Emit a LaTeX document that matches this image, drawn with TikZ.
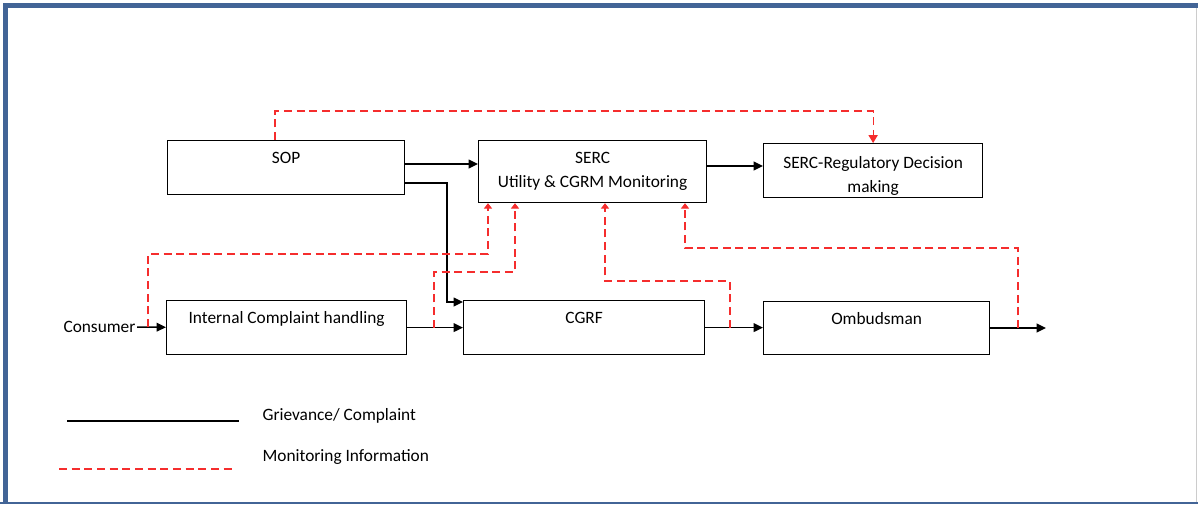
\documentclass[tikz,border=0pt]{standalone}
\usepackage{fontspec}
\setmainfont{Carlito}
\usetikzlibrary{arrows.meta}

\definecolor{frameblue}{RGB}{66,100,150}
\definecolor{monred}{RGB}{245,45,45}

\tikzset{
  blk/.style={draw, line width=0.9pt, anchor=north west, inner xsep=2pt, inner ysep=0pt, align=center, font=\fontsize{13}{18}\selectfont},
  onebox/.style={text height=17.4pt, text depth=23.1pt},
  flow/.style={line width=1.1pt, -{Triangle[length=7pt,width=6.5pt]}},
  mon/.style={monred, line width=0.8pt, dash pattern=on 6pt off 3.5pt},
  monhd/.style={mon, -{Triangle[length=4pt,width=6pt]}},
  lbl/.style={font=\fontsize{13}{15}\selectfont, inner sep=1pt}
}

\begin{document}
\begin{tikzpicture}[x=0.75pt,y=0.75pt,yscale=-1,xscale=1]
\useasboundingbox (0,0) rectangle (1198,504);

%Frame
\draw [frameblue, line width=3.75pt] (5.5,504) -- (5.5,5.5) -- (1198,5.5) ;
\draw [frameblue, line width=1.5pt] (0,503) -- (1198,503) ;
\draw [gray!40, line width=0.6pt] (1196.5,8) -- (1196.5,502) ;

%Boxes
\node [blk, onebox, minimum width=177.75pt] (sop) at (167,140) {SOP};
\node [blk, text height=35.4pt, text depth=11.1pt, minimum width=171pt] (serc) at (478,140) {SERC\\Utility \& CGRM Monitoring};
\node [blk, text height=36.5pt, text depth=4pt, minimum width=164.25pt] (reg) at (763,143) {SERC-Regulatory Decision\\making};
\node [blk, onebox, minimum width=180pt] (ich) at (166,300) {Internal Complaint handling};
\node [blk, onebox, minimum width=180.75pt] (cgrf) at (463,300) {CGRF};
\node [blk, text height=17.4pt, text depth=22.35pt, minimum width=169.5pt] (omb) at (763,301) {Ombudsman};

% Text Node
\node [lbl, anchor=east] (cons) at (137,327) {Consumer};

%Corner points
\coordinate (s1) at (440,164) ;
\coordinate (s2) at (735,166) ;
\coordinate (feed) at (447,183) ;
\coordinate (feedb) at (447,302) ;
\coordinate (endc) at (1046,328) ;

%Grievance lines
\draw [flow] (sop.east |- s1) -- (serc.west |- s1) ;
\draw [flow] (serc.east |- s2) -- (reg.west |- s2) ;
\draw [flow] (sop.east |- feed) -- (feed) -- (feedb) -- (cgrf.west |- feedb) ;
\draw [flow] (cons) -- (ich) ;
\draw [flow] (ich) -- (cgrf) ;
\draw [flow] (cgrf.east) -- (cgrf.east -| omb.west) ;
\draw [flow] (omb.east |- endc) -- (endc) ;

%Monitoring lines
\coordinate (m1) at (275,111) ;
\coordinate (m2) at (148,254) ;
\coordinate (m2e) at (488,254) ;
\coordinate (m3) at (434,272) ;
\coordinate (m3e) at (515,272) ;
\coordinate (m4) at (730,281) ;
\coordinate (m4e) at (605,281) ;
\coordinate (m5) at (1018,248) ;
\coordinate (m5e) at (685,248) ;
\draw [mon, -{Triangle[length=6pt,width=7pt]}] (sop.north -| m1) -- (m1) -| (reg.north) ;
\draw [monhd] (m2 |- cons.east) -- (m2) -- (m2e) -- (m2e |- serc.south) ;
\draw [monhd] (m3 |- ich.east) -- (m3) -- (m3e) -- (m3e |- serc.south) ;
\draw [monhd] (m4 |- cgrf.east) -- (m4) -- (m4e) -- (m4e |- serc.south) ;
\draw [monhd] (m5 |- endc) -- (m5) -- (m5e) -- (m5e |- serc.south) ;

%Legend
\coordinate (lga) at (67,421) ;
\coordinate (lgb) at (239,421) ;
\coordinate (lgc) at (59,469) ;
\coordinate (lgd) at (232,469) ;
\draw [line width=1pt] (lga) -- (lgb) ;
\draw [mon] (lgc) -- (lgd) ;
% Text Node
\node [lbl, anchor=west] (lgt1) at (261,416) {Grievance/ Complaint};
% Text Node
\node [lbl, anchor=west] (lgt2) at (261,457) {Monitoring Information};
\end{tikzpicture}
\end{document}
